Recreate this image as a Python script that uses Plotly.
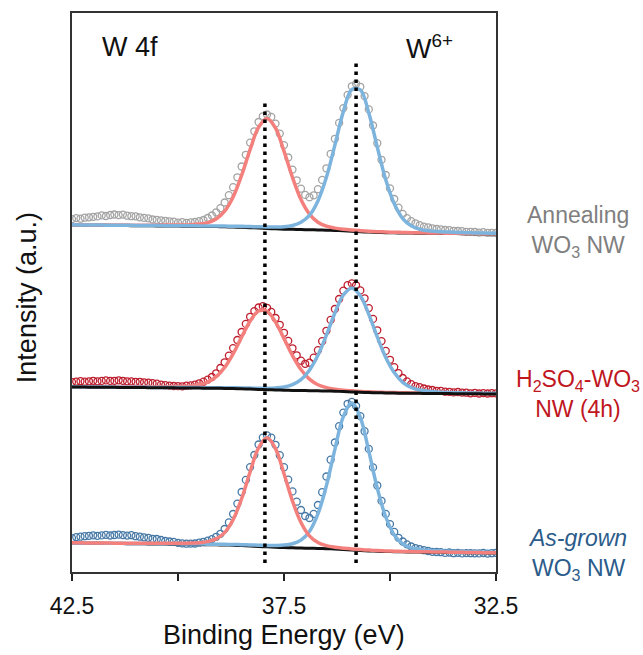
import numpy as np
import plotly.graph_objects as go

# ---------------- data (intensities in a.u.) ----------------
# binding-energy sampling grids (eV): measured points every 0.1 eV, fit curves every 0.2 eV
energy_data = np.round(np.linspace(42.5, 32.5, 101), 2)
energy_fit = np.round(np.linspace(42.5, 32.5, 51), 2)

# vertical stacking offsets of the three spectra
offset_anneal = 338
offset_h2so4 = 178
offset_asgrown = 19

# --- Annealing WO3 NW ---
data_anneal = [14.9, 15.9, 15.3, 16.3, 16.7, 17.2, 17.6, 18.6, 18.0, 19.0, 19.5, 18.9, 19.4, 18.3, 17.8, 17.7, 16.7, 16.1, 15.6, 14.5,
               14.1, 13.7, 13.2, 12.7, 12.3, 11.3, 11.9, 11.1, 11.6, 12.0, 12.9, 14.0, 16.0, 18.5, 21.7, 25.8, 31.5, 38.8, 46.8, 56.7, 67.5, 79.2, 91.4, 102.7,
               112.0, 117.7, 119.5, 117.1, 110.4, 100.4, 88.9, 76.5, 64.4, 53.7, 45.3, 39.1, 36.8, 38.7, 44.8, 54.1, 65.7, 80.1, 95.2, 111.1, 125.9, 139.1, 147.7,
               150.2, 147.2, 137.9, 124.6, 108.5, 90.8, 74.2, 59.0, 45.6, 35.0, 26.4, 20.1, 15.8, 12.8, 10.7, 8.8, 7.3, 6.7, 5.7, 5.0, 4.6, 4.0, 3.8, 3.2, 3.0, 2.8, 2.2, 2.1, 2.0, 1.4, 1.8, 1.2, 1.1, 1.0]
bg_anneal = [9.0, 8.91, 8.82, 8.73, 8.64, 8.55, 8.46, 8.37, 8.28, 8.19, 8.1, 8.01, 7.92, 7.83, 7.74, 7.6, 7.47, 7.38, 7.2, 6.98, 6.71, 6.35, 5.94, 5.54, 5.18,
             4.86, 4.64, 4.46, 4.28, 4.1, 3.87, 3.56, 3.15, 2.7, 2.25, 1.89, 1.58, 1.35, 1.17, 1.04, 0.9, 0.81, 0.72, 0.63, 0.54, 0.45, 0.36, 0.27, 0.18, 0.09, 0.0]
red_anneal = [0.25, 0.27, 0.3, 0.33, 0.37, 0.4, 0.45, 0.5, 0.58, 0.66, 0.76, 0.89, 1.06, 1.21, 1.54, 2.31, 3.96, 7.7, 15.6, 30.0, 51.9, 78.0, 100.8, 110.0,
              100.8, 78.0, 51.9, 30.0, 15.6, 7.7, 3.96, 2.31, 1.54, 1.21, 1.06, 0.89, 0.76, 0.66, 0.58, 0.5, 0.45, 0.4, 0.37, 0.33, 0.3, 0.27, 0.25, 0.23, 0.22, 0.2, 0.19]
blue_anneal = [0.15, 0.16, 0.17, 0.19, 0.2, 0.22, 0.25, 0.27, 0.29, 0.3, 0.33, 0.35, 0.38, 0.42, 0.46, 0.51, 0.57, 0.65, 0.72, 0.83, 0.94, 1.09, 1.29, 1.52, 1.89,
               2.47, 3.9, 7.3, 14.4, 29.0, 52.8, 85.3, 119.2, 141.8, 141.8, 119.2, 85.3, 52.8, 29.0, 14.4, 7.3, 3.9, 2.47, 1.89, 1.52, 1.29, 1.09, 0.94, 0.83, 0.72, 0.65]

# --- H2SO4-WO3 NW (4h) ---
data_h2so4 = [11.9, 12.4, 12.8, 12.3, 12.7, 13.2, 12.7, 13.1, 13.6, 13.1, 13.2, 13.7, 13.2, 12.7, 12.6, 12.2, 12.2, 11.7, 11.3, 10.8, 10.3, 9.3, 8.8,
              8.4, 8.0, 7.9, 7.7, 8.3, 8.6, 9.4, 10.7, 12.3, 14.4, 17.0, 20.7, 26.0, 31.7, 38.4, 45.9, 54.0, 62.0, 70.1, 77.2, 82.9, 86.5,
              87.8, 86.2, 82.1, 76.0, 69.2, 61.2, 53.1, 45.7, 38.7, 33.3, 30.2, 31.3, 36.3, 43.8, 52.8, 63.2, 74.1, 85.0, 95.0, 103.3, 108.8, 110.6,
              108.7, 103.6, 95.7, 85.9, 75.1, 63.7, 52.9, 43.1, 34.2, 26.9, 20.8, 16.0, 12.6, 9.9, 7.9, 6.8, 5.5, 4.5, 4.0, 3.2, 3.1, 2.3,
              2.2, 1.6, 2.0, 1.4, 1.3, 0.7, 1.1, 0.5, 0.9, 0.5, 0.8, 0.7]
bg_h2so4 = [7.0, 6.93, 6.86, 6.79, 6.72, 6.65, 6.58, 6.51, 6.44, 6.37, 6.3, 6.23, 6.16, 6.09, 6.02, 5.92, 5.81, 5.74, 5.6, 5.43, 5.22, 4.94, 4.62, 4.31, 4.03,
            3.78, 3.61, 3.47, 3.33, 3.19, 3.01, 2.77, 2.45, 2.1, 1.75, 1.47, 1.23, 1.05, 0.91, 0.81, 0.7, 0.63, 0.56, 0.49, 0.42, 0.35, 0.28, 0.21, 0.14, 0.07, 0.0]
red_h2so4 = [0.23, 0.26, 0.29, 0.32, 0.35, 0.39, 0.43, 0.48, 0.54, 0.62, 0.72, 0.84, 1.04, 1.3, 2.0, 3.4, 6.1, 11.5, 21.0, 34.8, 51.6, 67.9, 78.4,
             78.4, 67.9, 51.6, 34.8, 21.0, 11.5, 6.1, 3.4, 2.0, 1.3, 1.04, 0.84, 0.72, 0.62, 0.54, 0.48, 0.43, 0.39, 0.35, 0.32, 0.29, 0.26, 0.23, 0.21, 0.2, 0.19, 0.17, 0.16]
blue_h2so4 = [0.16, 0.16, 0.17, 0.18, 0.19, 0.2, 0.21, 0.23, 0.25, 0.26, 0.29, 0.32, 0.35, 0.38, 0.43, 0.48, 0.54, 0.61, 0.67, 0.76, 0.88, 1.0, 1.14, 1.46, 2.1,
              3.3, 5.8, 10.8, 20.5, 35.5, 55.8, 78.2, 96.5, 104.0, 96.5, 78.2, 55.8, 35.5, 20.5, 10.8, 5.8, 3.3, 2.1, 1.46, 1.14, 1.0, 0.88, 0.76, 0.67, 0.61, 0.54]

# --- As-grown WO3 NW ---
data_asgrown = [14.9, 15.9, 16.3, 16.8, 17.2, 17.7, 17.2, 17.6, 18.1, 17.5, 18.0, 18.4, 17.9, 17.4, 17.8, 16.8, 16.3, 15.7, 15.2, 14.2,
                14.0, 13.0, 12.0, 11.5, 11.1, 10.1, 9.7, 9.3, 9.4, 9.5, 10.3, 11.2, 12.4, 13.9, 16.2, 19.2, 24.0, 30.6, 39.0, 49.4, 61.0, 73.1, 85.9, 98.0,
                108.5, 115.4, 117.6, 115.3, 108.2, 97.8, 85.8, 73.4, 61.6, 51.3, 43.0, 37.0, 35.0, 39.1, 48.0, 60.8, 76.5, 93.3, 110.5, 126.8, 140.4, 149.2, 151.1,
                147.0, 136.9, 121.8, 104.1, 85.6, 67.5, 52.1, 39.1, 28.9, 21.1, 15.2, 11.5, 8.6, 6.5, 4.9, 3.8, 2.8, 2.0, 1.2, 1.0, 0.8, 0.1, 0.5, -0.2, 0.2,
                -0.4, -0.1, -0.2, -0.3, -0.4, 0.0, -0.6, -0.2, 0.2]
bg_asgrown = [10.0, 9.9, 9.8, 9.7, 9.6, 9.5, 9.4, 9.3, 9.2, 9.1, 9.0, 8.9, 8.8, 8.7, 8.6, 8.45, 8.3, 8.2, 8.0, 7.75, 7.45, 7.05, 6.6, 6.15, 5.75,
              5.4, 5.15, 4.95, 4.75, 4.55, 4.3, 3.95, 3.5, 3.0, 2.5, 2.1, 1.75, 1.5, 1.3, 1.15, 1.0, 0.9, 0.8, 0.7, 0.6, 0.5, 0.4, 0.3, 0.2, 0.1, 0.0]
red_asgrown = [0.25, 0.26, 0.28, 0.31, 0.33, 0.36, 0.4, 0.45, 0.51, 0.59, 0.68, 0.78, 0.94, 1.09, 1.36, 1.85, 3.05, 5.9, 12.4, 25.6, 46.8, 73.9, 98.6, 109.0,
               98.6, 73.9, 46.8, 25.6, 12.4, 5.9, 3.05, 1.85, 1.36, 1.09, 0.94, 0.78, 0.68, 0.59, 0.51, 0.45, 0.4, 0.36, 0.33, 0.31, 0.28, 0.26, 0.25, 0.23, 0.22, 0.21, 0.2]
blue_asgrown = [0.19, 0.2, 0.21, 0.22, 0.24, 0.25, 0.26, 0.28, 0.29, 0.31, 0.34, 0.36, 0.39, 0.41, 0.45, 0.5, 0.54, 0.62, 0.69, 0.79, 0.91, 1.06, 1.26, 1.47, 1.84,
                2.5, 4.1, 7.9, 16.8, 34.5, 63.1, 99.7, 133.0, 147.0, 133.0, 99.7, 63.1, 34.5, 16.8, 7.9, 4.1, 2.5, 1.84, 1.47, 1.26, 1.06, 0.91, 0.79, 0.69, 0.62, 0.54]

# W 4f5/2 and W 4f7/2 (W6+) reference positions, eV
peak_positions = [37.95, 35.8]

# axis ticks
tick_values = [42.5, 37.5, 32.5]
tick_labels = ["42.5", "37.5", "32.5"]
minor_tick_values = [40, 35]

# ---------------- styles ----------------
RED_FIT = "#F3807C"
BLUE_FIT = "#7DB4DE"
BG_LINE = "#111111"

fig = go.Figure()


def add_spectrum(off, data, bg, red, blue, marker_color, order):
    bg_a = np.array(bg, dtype=float)
    fig.add_trace(go.Scatter(
        x=energy_data, y=np.array(data, dtype=float) + off, mode="markers",
        marker=dict(symbol="circle-open", size=7, color=marker_color,
                    line=dict(width=1.3, color=marker_color)),
        showlegend=False, hoverinfo="skip"))
    curves = {
        "bg": (bg_a + off, BG_LINE, 3.0),
        "red": (bg_a + np.array(red, dtype=float) + off, RED_FIT, 3.5),
        "blue": (bg_a + np.array(blue, dtype=float) + off, BLUE_FIT, 3.5),
    }
    for name in order:
        yv, col, w = curves[name]
        fig.add_trace(go.Scatter(
            x=energy_fit, y=yv, mode="lines",
            line=dict(color=col, width=w, shape="spline", smoothing=1.0),
            showlegend=False, hoverinfo="skip"))


add_spectrum(offset_anneal, data_anneal, bg_anneal, red_anneal, blue_anneal, "#A3A3A3", ["bg", "red", "blue"])
add_spectrum(offset_h2so4, data_h2so4, bg_h2so4, red_h2so4, blue_h2so4, "#BE1E2D", ["red", "blue", "bg"])
add_spectrum(offset_asgrown, data_asgrown, bg_asgrown, red_asgrown, blue_asgrown, "#4679A6", ["bg", "blue", "red"])

# dotted peak-position guides
dot_tops = [473, 509]
for pos, top in zip(peak_positions, dot_tops):
    fig.add_shape(type="line", xref="x", yref="y", x0=pos, x1=pos, y0=9, y1=top,
                  line=dict(color="black", width=3.5, dash="3.5px,4.5px"), layer="above")

FONT = "Liberation Sans, Arial, sans-serif"

annotations = [
    dict(text="W 4f", x=0.066, y=0.939, xanchor="left", yanchor="middle",
         font=dict(size=27, color="#111111")),
    dict(text="W<sup>6+</sup>", x=0.783, y=0.939, xanchor="left", yanchor="middle",
         font=dict(size=27, color="#111111")),
    dict(text="Annealing<br>WO<sub>3</sub> NW", x=1.193, y=0.61, xanchor="center", yanchor="middle",
         font=dict(size=23, color="#7F7F7F")),
    dict(text="H<sub>2</sub>SO<sub>4</sub>-WO<sub>3</sub><br>NW (4h)", x=1.193, y=0.318, xanchor="center", yanchor="middle",
         font=dict(size=23, color="#C0161E")),
    dict(text="<i>As-grown</i><br>WO<sub>3</sub> NW", x=1.193, y=0.032, xanchor="center", yanchor="middle",
         font=dict(size=23, color="#2B5C8A")),
    dict(text="Intensity (a.u.)", x=-0.106, y=0.49, xanchor="center", yanchor="middle", textangle=-90,
         font=dict(size=27, color="#111111")),
    dict(text="Binding Energy (eV)", x=0.5, y=-0.113, xanchor="center", yanchor="middle",
         font=dict(size=27, color="#111111")),
]
for a in annotations:
    a.update(xref="paper", yref="paper", showarrow=False)

fig.update_layout(
    width=643, height=655,
    margin=dict(l=72, r=147, t=13, b=83),
    paper_bgcolor="white", plot_bgcolor="white",
    font=dict(family=FONT, color="#111111"),
    annotations=annotations,
    xaxis=dict(range=[42.5, 32.5], tickmode="array", tickvals=tick_values, ticktext=tick_labels,
               ticks="outside", ticklen=7, tickwidth=1.5, tickcolor="#222222",
               minor=dict(tickmode="array", tickvals=minor_tick_values, ticks="outside",
                          ticklen=7, tickwidth=1.5, tickcolor="#222222", showgrid=False),
               showline=True, linecolor="#333333", linewidth=1.5, mirror=True,
               showgrid=False, zeroline=False, tickfont=dict(size=23, color="#111111"),
               ticklabelstandoff=6),
    yaxis=dict(range=[0, 559], showline=True, linecolor="#333333", linewidth=1.5, mirror=True,
               ticks="", showticklabels=False, showgrid=False, zeroline=False),
)

fig.write_html("out.html")
